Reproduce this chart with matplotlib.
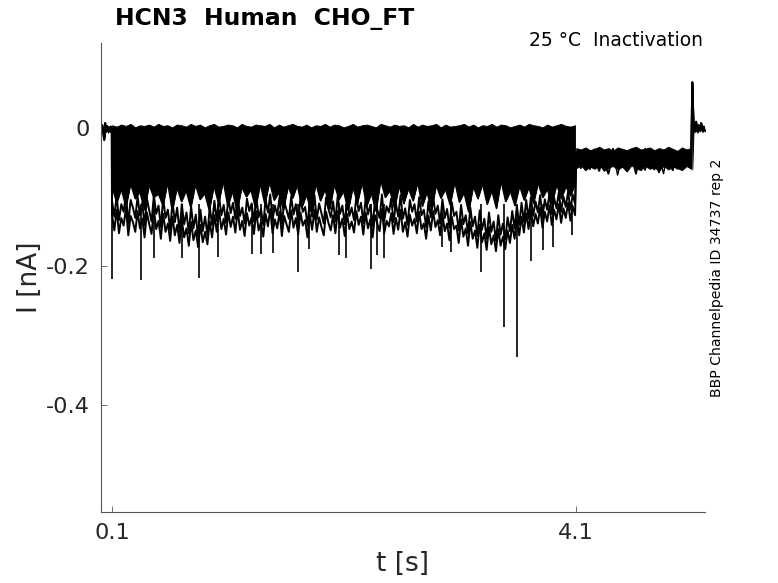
import numpy as np
import matplotlib
matplotlib.use("Agg")
import matplotlib.pyplot as plt

# ---------------- data (currents in pA) ----------------
title_text = "HCN3  Human  CHO_FT"
temp_text = "25 °C  Inactivation"
id_text = "BBP Channelpedia ID 34737 rep 2"

x_ticks = [0.1, 4.1]
x_tick_labels = ["0.1", "4.1"]
y_ticks = [-0.4, -0.2, 0.0]
y_tick_labels = ["-0.4", "-0.2", "0"]

# holding segment 0 - 0.1 s (all sweeps)
pre_t_end = 0.098
pre_pA = [0, -3, 4, -6, -17, 7, -2, 3, -4, 1, -3, 2, -1]
pre_low_pA = [-4, -6, -2, -9, -17, -3, -6, -2, -7, -4, -6, -3, -5]

# test segment 0.1 - 4.1 s: upper edge of the dense band of overlapping sweeps
step_t = (0.1, 4.09)
band_top = [4,2,5,3,6,1,4,3,5,2,6,3,4,1,5,4,2,6,3,5,1,4,6,2,3,5,4,1,6,3,2,5,4,3,6,1,5,2,4,6,3,2,5,1,4,3,6,2,5,4,1,3,6,2,4,5,3,1,6,4,2,5,3,4,1,6,2,5,3,4,6,1,5,2,3,4,6,2,5,1,4,3,6,2,5,4,1,3,5,2,6,4,3,1,5,2,4,6,3,2,4]

# the deepest sweeps (ragged lower part of the band); the band is solid down to sweep_H
sweep_H = [-84,-108,-88,-114,-80,-102,-92,-118,-82,-100,-95,-112,-78,-120,-86,-106,-90,-115,-81,-103,-94,-119,-83,-109,-76,-113,-91,-120,-85,-99,-89,-116,-80,-110,-77,-104,-93,-118,-84,-101,-82,-114,-96,-121,-79,-105,-88,-117,-81,-103,-91,-119,-85,-108,-78,-112,-94,-120,-75,-100,-90,-116,-83,-109,-87,-105,-78,-113,-92,-118,-82,-101,-88,-111,-77,-107,-93,-121,-84,-102,-80,-110,-90,-116,-76,-106,-91,-112,-83,-104,-85,-109,-79,-100,-88,-110,-81,-102,-84,-98,-80]
sweep_I = [-105,-128,-98,-133,-110,-121,-96,-138,-104,-115,-130,-99,-126,-108,-141,-102,-119,-135,-97,-124,
           -112,-143,-101,-130,-118,-147,-106,-136,-115,-150,-110,-139,-122,-152,-113,-145,-125,-158,-118,-149,
           -128,-155,-114,-140,-105,-134,-99,-126,-111,-137,-100,-123,-108,-131,-97,-127,-115,-138,-102,-120,
           -109,-135,-98,-129,-117,-140,-103,-122,-96,-133,-112,-126,-100,-139,-107,-118,-131,-99,-125,-110,
           -136,-101,-121,-114,-141,-104,-128,-97,-132,-109,-123,-138,-100,-117,-129,-106,-135,-98,-124,-112,
           -139,-103,-127,-115,-133,-99,-120,-108,-137,-101,-125,-111,-142,-105,-118,-130,-96,-134,-113,-122,
           -102,-136,-109,-128,-97,-131,-116,-140,-104,-121,-110,-135,-100,-126,-118,-143,-106,-129,-99,-124,
           -112,-138,-103,-130,-117,-144,-107,-127,-121,-148,-111,-139,-126,-152,-115,-142,-128,-156,-119,-147,
           -131,-160,-122,-150,-135,-163,-126,-154,-138,-161,-129,-149,-120,-145,-113,-140,-108,-136,-104,-131,
           -100,-127,-106,-122,-97,-129,-103,-118,-95,-124,-101,-116,-93,-121,-99,-114,-92,-118,-96,-110]
sweep_J = [-125,-148,-118,-152,-130,-141,-115,-155,-127,-136,-150,-120,-145,-131,-158,-122,-139,-153,-117,-146,
           -134,-160,-124,-150,-138,-163,-128,-155,-140,-166,-132,-158,-145,-170,-136,-162,-148,-172,-140,-165,
           -150,-168,-135,-158,-126,-150,-119,-146,-131,-154,-122,-143,-128,-151,-118,-147,-134,-156,-123,-141,
           -129,-153,-120,-148,-136,-157,-124,-142,-117,-152,-132,-145,-121,-156,-127,-139,-150,-119,-144,-130,
           -154,-122,-141,-133,-158,-125,-147,-118,-150,-129,-143,-155,-121,-137,-148,-126,-152,-120,-144,-131,
           -156,-124,-146,-135,-151,-120,-140,-128,-154,-122,-145,-132,-158,-126,-138,-149,-117,-152,-134,-142,
           -123,-153,-130,-147,-118,-150,-136,-157,-125,-141,-131,-152,-121,-146,-138,-160,-127,-148,-120,-143,
           -133,-155,-124,-149,-138,-162,-128,-146,-141,-166,-132,-157,-145,-170,-136,-160,-148,-173,-140,-165,
           -152,-176,-143,-168,-155,-178,-146,-170,-157,-175,-148,-166,-140,-160,-133,-155,-128,-151,-123,-146,
           -119,-142,-124,-138,-115,-144,-121,-135,-112,-140,-118,-132,-110,-137,-116,-130,-108,-134,-113,-126]
deep_sweeps = [sweep_H, sweep_I, sweep_J]
deep_widths = [1.0, 1.4, 1.4]

# brief downward spikes in the deepest sweeps: time (s) and tip (nA)
spike_t = [0.102, 0.350, 0.462, 0.703, 0.850, 1.014, 1.307, 1.384, 1.488, 1.703, 1.798,
           2.057, 2.117, 2.333, 2.384, 2.445, 2.945, 3.022, 3.281, 3.479, 3.591, 3.712,
           3.816, 3.902, 4.066]
spike_tip = [-0.218, -0.219, -0.188, -0.188, -0.217, -0.186, -0.182, -0.182, -0.180, -0.208,
             -0.175, -0.183, -0.188, -0.204, -0.183, -0.188, -0.172, -0.179, -0.208, -0.287,
             -0.331, -0.192, -0.176, -0.172, -0.155]
spike_base = -0.11

# segment 4.1 - 5.1 s
tail_t = (4.1, 5.09)
tail_top = [-29,-31,-28,-32,-30,-27,-31,-29,-33,-28,-30,-32,-29,-27,-31,-30,-28,-32,-29,-31,-27,-30,-33,-28,-31,-29]
tail_bottom = [-58,-54,-61,-56,-59,-53,-62,-57,-55,-60,-56,-63,-54,-58,-61,-55,-59,-57,-62,-54,-60,-56,-58,-61,-55,-59]
tail_1 = [-34,-55,-38,-60,-32,-50,-42,-58,-36,-68,-40,-52,-33,-57,-45,-61,-35,-49,-39,-66,-31,-54,-43,-60,-37,-48]
tail_2 = [-40,-58,-33,-52,-46,-62,-36,-55,-30,-59,-44,-50,-38,-66,-34,-53,-41,-60,-32,-56,-47,-61,-35,-51,-42,-57]
tail_3 = [-45,-36,-60,-42,-31,-57,-48,-66,-39,-54,-33,-61,-46,-38,-58,-30,-52,-44,-64,-37,-55,-32,-59,-43,-50,-41]
tails = [tail_1, tail_2, tail_3]

# final segment with the capacitive spike, 5.1 - 5.21 s
end_t = (5.1, 5.21)
end_pA = [66, 6, -3, 9, -5, 4, -2, 7, -4, 2, -3]
end_low_pA = [-60, -4, -6, -2, -7, -3, -5, -1, -6, -3, -5]

# ---------------- figure ----------------
W, H = 778, 583
fig = plt.figure(figsize=(W / 100, H / 100), dpi=100)
ax = fig.add_axes([101 / W, 1 - 512 / H, 604 / W, 469 / H])

def nA(v):
    return np.asarray(v, dtype=float) / 1000.0

t_pre = np.linspace(0.0, pre_t_end, len(pre_pA))
t_main = np.linspace(step_t[0], step_t[1], len(band_top))
t_tail = np.linspace(tail_t[0], tail_t[1], len(tail_top))
t_end = np.linspace(end_t[0], end_t[1], len(end_pA))

# dense bands of overlapping noisy sweeps
kw = dict(color="black", linewidth=0.6, edgecolor="black")
ax.fill_between(t_pre, nA(pre_low_pA), nA(pre_pA), **kw)
ax.fill_between(t_main, nA(sweep_H), nA(band_top), **kw)
ax.fill_between(t_tail, nA(tail_bottom), nA(tail_top), **kw)
ax.fill_between(t_end, nA(end_low_pA), nA(end_pA), **kw)

# individual deep sweeps (with their following segments)
for i, (sw, lw) in enumerate(zip(deep_sweeps, deep_widths)):
    tl = tails[i % len(tails)]
    t = np.concatenate([t_pre, np.linspace(step_t[0], step_t[1], len(sw)),
                        np.linspace(tail_t[0], tail_t[1], len(tl)), t_end])
    y = np.concatenate([nA(pre_pA), nA(sw), nA(tl), nA(end_pA)])
    ax.plot(t, y, color="black", linewidth=lw)

ax.vlines(spike_t, spike_base, spike_tip, color="black", linewidth=1.2)

ax.set_xlim(0.0052, 5.2095)
ax.set_ylim(-0.5545, 0.1227)
ax.set_xticks(x_ticks)
ax.set_xticklabels(x_tick_labels)
ax.set_yticks(y_ticks)
ax.set_yticklabels(y_tick_labels)

for s in ("top", "right"):
    ax.spines[s].set_visible(False)
for s in ("left", "bottom"):
    ax.spines[s].set_color("#555555")
    ax.spines[s].set_linewidth(0.8)
ax.tick_params(direction="in", length=4.5, width=0.6, color="#555555",
               labelsize=16.2, labelcolor="#262626", pad=8)

ax.set_xlabel("t [s]", fontsize=19, color="#262626", labelpad=6)
ax.set_ylabel("I [nA]", fontsize=19, color="#262626", labelpad=2)

fig.text(115 / W, 1 - 18 / H, title_text, fontsize=16.9, fontweight="bold",
         ha="left", va="center", color="black")
fig.text(703 / W, 1 - 41 / H, temp_text, fontsize=13.5, ha="right", va="center",
         color="black")
fig.text(717 / W, 1 - 278 / H, id_text, fontsize=10.1, rotation=90,
         ha="center", va="center", color="black")

fig.savefig("out.png", dpi=100)
